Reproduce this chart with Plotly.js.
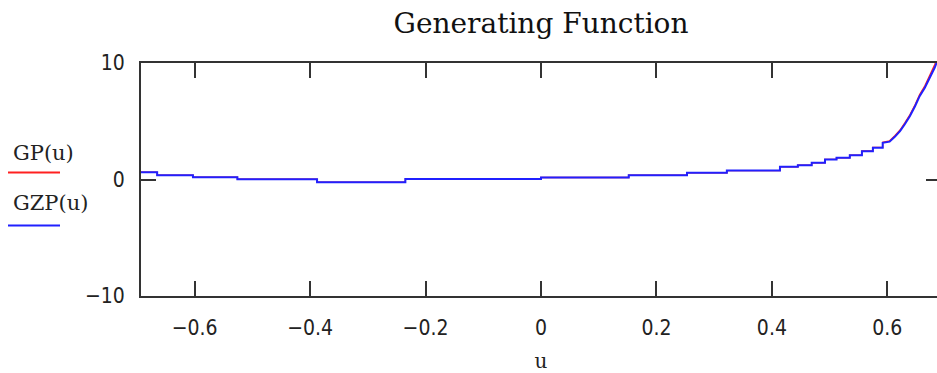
<!DOCTYPE html>
<html>
<head>
<meta charset="utf-8">
<script src="https://cdn.plot.ly/plotly-3.0.1.min.js"></script>
<style>
html,body{margin:0;padding:0;overflow:hidden;background:#fff;}
#chart{width:941px;height:373px;}
</style>
</head>
<body>
<div id="chart"></div>
<script>
// Breakpoints (u) and values
const uSteps = [-0.693, -0.665, -0.603, -0.526, -0.388, -0.235, 0.0, 0.152, 0.253, 0.322,
  0.414, 0.445, 0.469, 0.492, 0.512, 0.535, 0.556, 0.575, 0.592, 0.604,
  0.613, 0.622, 0.630, 0.639, 0.648, 0.656, 0.665, 0.674, 0.682, 0.690];
const gzpValues = [0.63, 0.37, 0.20, 0.03, -0.23, 0.05, 0.17, 0.37, 0.57, 0.77,
  1.09, 1.23, 1.43, 1.72, 1.86, 2.09, 2.43, 2.72, 3.15, 3.25,
  3.66, 4.15, 4.72, 5.43, 6.29, 7.15, 7.87, 8.73, 9.59, 10.6];
const gpValues = [0.63, 0.37, 0.20, 0.03, -0.23, 0.05, 0.17, 0.37, 0.57, 0.77,
  1.09, 1.23, 1.43, 1.72, 1.86, 2.09, 2.46, 2.76, 3.20, 3.32,
  3.76, 4.25, 4.84, 5.56, 6.42, 7.30, 8.05, 8.93, 9.85, 10.9];
const xTickVals = [-0.6, -0.4, -0.2, 0, 0.2, 0.4, 0.6];
const xTickText = ["\u22120.6", "\u22120.4", "\u22120.2", "0", "0.2", "0.4", "0.6"];
const yTickVals = [-10, 0, 10];
const yTickText = ["\u221210", "0", "10"];
const seriesNames = ["GP(u)", "GZP(u)"];
const smoothFrom = 0.6; // beyond this the staircase is fine enough to read as a curve

// staircase corners in the flat part, straight segments in the steep part
function stairs(us, vs) {
  const x = [], y = [];
  for (let i = 0; i < us.length; i++) {
    x.push(us[i]); y.push(vs[i]);
    if (i + 1 < us.length && us[i + 1] <= smoothFrom) { x.push(us[i + 1]); y.push(vs[i]); }
  }
  return {x, y};
}
const gp = stairs(uSteps, gpValues);
const gzp = stairs(uSteps, gzpValues);

const tickFont = {family: "Liberation Sans Narrow, DejaVu Sans Condensed, sans-serif", size: 21, color: "#222"};

const traces = [
  {x: gp.x, y: gp.y, mode: "lines", line: {color: "#ff2020", width: 1.3}, name: seriesNames[0], hoverinfo: "skip"},
  {x: gzp.x, y: gzp.y, mode: "lines", line: {color: "#2020ff", width: 2}, name: seriesNames[1], hoverinfo: "skip"}
];

const layout = {
  width: 941, height: 373,
  margin: {l: 141, r: 0, t: 63, b: 77},
  paper_bgcolor: "#fff", plot_bgcolor: "#fff",
  showlegend: false,
  title: {text: "Generating Function", xref: "paper", x: 0.5, xanchor: "center",
    yref: "container", y: 1 - 23/373, yanchor: "middle",
    font: {family: "DejaVu Serif, Liberation Serif, serif", size: 28, color: "#111"}},
  xaxis: {
    range: [-0.693, 0.693], tickvals: xTickVals, ticktext: xTickText,
    ticks: "inside", ticklen: 15, tickwidth: 2, tickcolor: "#333",
    showline: true, linecolor: "#333", linewidth: 2, mirror: "ticks",
    showgrid: false, zeroline: false, tickfont: tickFont, ticklabelstandoff: 12,
    title: {text: "u", font: {family: "DejaVu Serif, serif", size: 20, color: "#222"}, standoff: 16}
  },
  yaxis: {
    range: [-10, 10], tickvals: yTickVals, ticktext: yTickText,
    ticks: "inside", ticklen: 15, tickwidth: 2, tickcolor: "#333",
    showline: true, linecolor: "#333", linewidth: 2, mirror: "ticks",
    showgrid: false, zeroline: false, tickfont: tickFont, ticklabelstandoff: 10
  },
  annotations: [
    {text: seriesNames[0], xref: "paper", yref: "paper", x: (11-141)/800, y: 1 - (153-63)/233, xanchor: "left", yanchor: "middle", showarrow: false,
      font: {family: "DejaVu Serif, serif", size: 21, color: "#222"}},
    {text: seriesNames[1], xref: "paper", yref: "paper", x: (11-141)/800, y: 1 - (203-63)/233, xanchor: "left", yanchor: "middle", showarrow: false,
      font: {family: "DejaVu Serif, serif", size: 21, color: "#222"}}
  ],
  shapes: [
    {type: "line", xref: "paper", yref: "paper", x0: (8-141)/800, x1: (60-141)/800, y0: 1 - (172.5-63)/233, y1: 1 - (172.5-63)/233, line: {color: "#ff2020", width: 2}},
    {type: "line", xref: "paper", yref: "paper", x0: (8-141)/800, x1: (60-141)/800, y0: 1 - (225.5-63)/233, y1: 1 - (225.5-63)/233, line: {color: "#2020ff", width: 2}}
  ]
};

Plotly.newPlot("chart", traces, layout, {displayModeBar: false, staticPlot: true});
</script>
</body>
</html>
